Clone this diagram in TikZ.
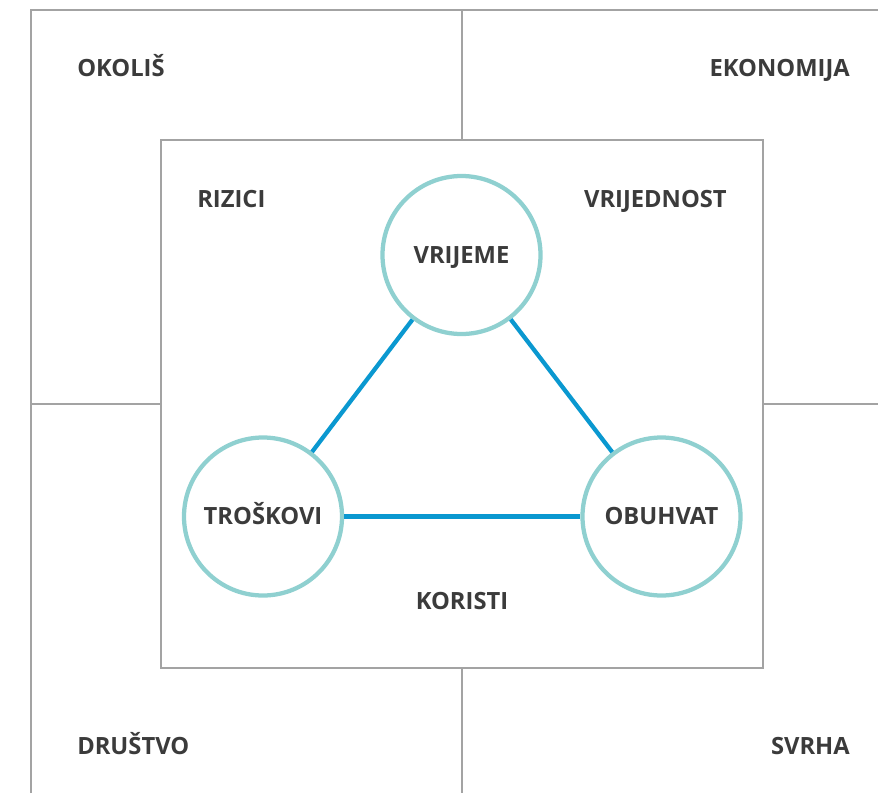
\documentclass[tikz,border=0pt]{standalone}
\usepackage{fontspec}
\setmainfont{Open Sans}
\definecolor{framegray}{HTML}{A3A3A3}
\definecolor{ringteal}{HTML}{8FD0D0}
\definecolor{linkblue}{HTML}{0A98D0}
\definecolor{labelgray}{HTML}{3B3B3B}
\begin{document}
\begin{tikzpicture}[x=0.75pt,y=-0.75pt,
  labelfont/.style={font=\bfseries\fontsize{17.8}{20}\selectfont,text=labelgray,text height=12.7pt,text depth=0pt},
  frame/.style={draw=framegray,line width=1.5pt},
  ring/.style={circle,draw=ringteal,line width=3.2pt,minimum size=158*0.75pt,inner sep=0pt,fill=white,labelfont},
  link/.style={draw=linkblue,line width=3.2pt},
  lbl/.style={labelfont,inner sep=0pt}]
\useasboundingbox (0,0) rectangle (878,793);
% outer quadrant frame
\draw[frame] (31,793) -- (31,10) -- (878,10);
\draw[frame] (462,10) -- (462,140);
\draw[frame] (462,668) -- (462,793);
\draw[frame] (31,404) -- (161,404);
\draw[frame] (763,404) -- (878,404);
% inner box
\draw[frame] (161,140) rectangle (763,668);
% corner labels
\node[lbl,anchor=west] (okolis) at (77,68) {OKOLIŠ};
\node[lbl,anchor=east] (ekonomija) at (850,68) {EKONOMIJA};
\node[lbl,anchor=west] (drustvo) at (77,746) {DRUŠTVO};
\node[lbl,anchor=east] (svrha) at (850,746) {SVRHA};
\node[lbl,anchor=west] (rizici) at (197,199) {RIZICI};
\node[lbl,anchor=east] (vrijednost) at (727,199) {VRIJEDNOST};
\node[lbl] (koristi) at (462,601) {KORISTI};
% triangle of constraints
\node[ring] (vrijeme) at (461.5,255) {VRIJEME};
\node[ring] (troskovi) at (263,516.5) {TROŠKOVI};
\node[ring] (obuhvat) at (661.5,516.5) {OBUHVAT};
\draw[link] (vrijeme) -- (troskovi);
\draw[link] (vrijeme) -- (obuhvat);
\draw[link] (troskovi) -- (obuhvat);
\end{tikzpicture}
\end{document}
